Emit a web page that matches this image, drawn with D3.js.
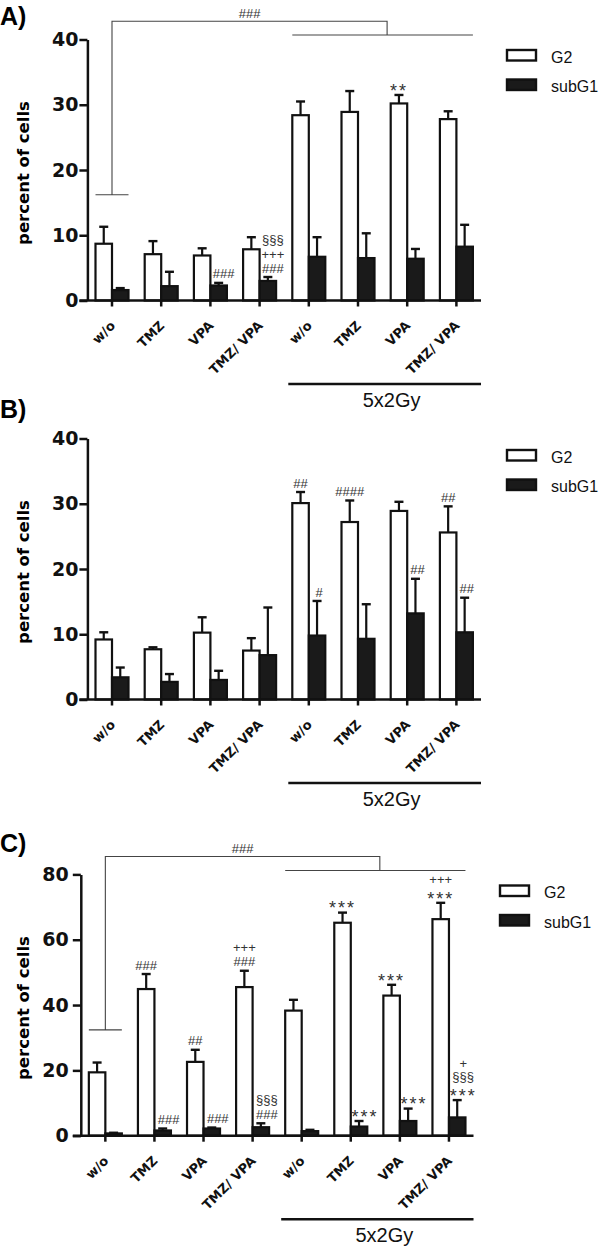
<!DOCTYPE html>
<html><head><meta charset="utf-8">
<script src="https://cdn.jsdelivr.net/npm/d3@7"></script>
<style>body{margin:0;background:#fff} svg{display:block}</style>
</head><body><svg id="c" width="600" height="1246"></svg>
<script>
// ---------- data ----------
const categories = ["w/o", "TMZ", "VPA", "TMZ/ VPA", "w/o", "TMZ", "VPA", "TMZ/ VPA"];
const seriesNames = ["G2", "subG1"];
const groupLabel = "5x2Gy";
const yTitle = "percent of cells";

const ticksAB = [0, 10, 20, 30, 40];
const ticksC = [0, 20, 40, 60, 80];

// Panel A
const A_G2 = [8.7, 7.1, 6.9, 7.85, 28.4, 28.9, 30.2, 27.8];
const A_G2_err = [2.6, 2.0, 1.1, 1.85, 2.1, 3.2, 1.3, 1.2];
const A_subG1 = [1.6, 2.2, 2.3, 3.0, 6.7, 6.5, 6.4, 8.25];
const A_subG1_err = [0.3, 2.2, 0.4, 0.6, 3.0, 3.8, 1.5, 3.35];
const A_annot = [
  [2, "subG1", ["###"]],
  [3, "subG1", ["§§§", "+++", "###"]],
  [6, "G2", ["**"]]
];
// bracket: [left group, left level, right first group, right last group, right level, top level, label]
const A_bracket = [0, 16.2, 4, 7, 40.7, 42.8, "###"];

// Panel B
const B_G2 = [9.2, 7.7, 10.25, 7.5, 30.1, 27.2, 28.9, 25.6];
const B_G2_err = [1.1, 0.3, 2.35, 1.9, 1.7, 3.3, 1.4, 4.0];
const B_subG1 = [3.4, 2.7, 3.0, 6.8, 9.8, 9.3, 13.2, 10.3];
const B_subG1_err = [1.5, 1.2, 1.4, 7.3, 5.3, 5.3, 5.3, 5.3];
const B_annot = [
  [4, "G2", ["##"]],
  [5, "G2", ["####"]],
  [7, "G2", ["##"]],
  [4, "subG1", ["#"]],
  [6, "subG1", ["##"]],
  [7, "subG1", ["##"]]
];

// Panel C
const C_G2 = [19.4, 44.9, 22.6, 45.5, 38.3, 65.2, 42.9, 66.3];
const C_G2_err = [3.0, 4.6, 3.7, 5.0, 3.3, 3.1, 3.3, 5.0];
const C_subG1 = [0.7, 1.6, 2.2, 2.6, 1.4, 2.8, 4.5, 5.6];
const C_subG1_err = [0.2, 0.6, 0.3, 1.2, 0.4, 1.7, 3.8, 5.3];
const C_annot = [
  [1, "G2", ["###"]],
  [2, "G2", ["##"]],
  [3, "G2", ["+++", "###"]],
  [1, "subG1", ["###"]],
  [2, "subG1", ["###"]],
  [3, "subG1", ["§§§", "###"]],
  [5, "G2", ["***"]],
  [6, "G2", ["***"]],
  [7, "G2", ["+++", "***"]],
  [5, "subG1", ["***"]],
  [6, "subG1", ["***"]],
  [7, "subG1", ["+", "§§§", "***"]]
];
const C_bracket = [0, 32.4, 4, 7, 81.2, 85.5, "###"];

// ---------- drawing ----------
const svg = d3.select("#c");
const BOLD = "'DejaVu Sans', sans-serif";
const REG = "'Liberation Sans', Arial, sans-serif";

function panel(cfg) {
  const g = svg.append("g");
  const y = d3.scaleLinear().domain([0, cfg.yMax]).range([cfg.y0, cfg.yTop]);
  const x = d3.scaleBand().domain(d3.range(categories.length)).range([cfg.xStart, cfg.xEnd]);
  const sub = d3.scaleBand().domain(seriesNames).range([-16.5, 16.5]);
  const cx = i => x(i) + x.bandwidth() / 2;
  const vals = {G2: cfg.g2, subG1: cfg.sub};
  const errs = {G2: cfg.g2e, subG1: cfg.sube};

  // panel letter
  g.append("text").attr("x", 0).attr("y", cfg.letterY).text(cfg.letter)
    .attr("font-family", REG).attr("font-weight", "bold").attr("font-size", 25);

  // y title
  g.append("text").attr("transform", `translate(29,${(cfg.y0 + cfg.yTop) / 2 + 3}) rotate(-90)`)
    .attr("text-anchor", "middle").text(yTitle)
    .attr("font-family", BOLD).attr("font-weight", "bold").attr("font-size", 16.5);

  // bars
  seriesNames.forEach(s => {
    g.selectAll(null).data(vals[s]).enter().append("rect")
      .attr("x", (d, i) => cx(i) + sub(s))
      .attr("width", sub.bandwidth())
      .attr("y", d => y(d))
      .attr("height", d => cfg.y0 - y(d))
      .attr("fill", s === "G2" ? "#fff" : "#1a1a1a")
      .attr("stroke", "#111").attr("stroke-width", 2.2);
    // error bars
    const eg = g.selectAll(null).data(vals[s]).enter().append("g")
      .attr("transform", (d, i) => `translate(${cx(i) + sub(s) + sub.bandwidth() / 2},0)`);
    eg.append("line").attr("x1", 0).attr("x2", 0)
      .attr("y1", d => y(d)).attr("y2", (d, i) => y(d + errs[s][i]))
      .attr("stroke", "#111").attr("stroke-width", 2.2);
    eg.append("line").attr("x1", -4.5).attr("x2", 4.5)
      .attr("y1", (d, i) => y(d + errs[s][i])).attr("y2", (d, i) => y(d + errs[s][i]))
      .attr("stroke", "#111").attr("stroke-width", 2.4);
  });

  // y axis
  const ya = g.append("g").attr("transform", `translate(${cfg.xStart},0)`)
    .call(d3.axisLeft(y).tickValues(cfg.ticks).tickSize(8).tickSizeOuter(0).tickPadding(cfg.pad));
  ya.select(".domain").attr("stroke", "#111").attr("stroke-width", 2.5);
  ya.selectAll(".tick line").attr("stroke", "#111").attr("stroke-width", 2.5);
  ya.selectAll(".tick text").attr("font-family", BOLD).attr("font-weight", "bold")
    .attr("font-size", 19).attr("fill", "#111");

  // x axis
  const xa = g.append("g").attr("transform", `translate(0,${cfg.y0})`)
    .call(d3.axisBottom(x).tickSize(6).tickSizeOuter(0).tickFormat(i => categories[i]));
  xa.select(".domain").remove();
  xa.append("line").attr("x1", cfg.xStart - 8).attr("x2", cfg.xEnd).attr("y1", 0).attr("y2", 0)
    .attr("stroke", "#111").attr("stroke-width", 2.5);
  xa.selectAll(".tick line").attr("stroke", "#111").attr("stroke-width", 2.5);
  xa.selectAll(".tick text").attr("x", 0).attr("y", 0).attr("dy", 0)
    .attr("text-anchor", "end").attr("transform", "translate(4,26) rotate(-45)")
    .attr("font-family", BOLD).attr("font-weight", "bold").attr("font-size", 13).attr("fill", "#111");

  // 5x2Gy group line
  const gx1 = cx(4) + sub("G2") - 4;
  g.append("line").attr("x1", gx1).attr("x2", cfg.xEnd)
    .attr("y1", cfg.y0 + 83.5).attr("y2", cfg.y0 + 83.5)
    .attr("stroke", "#111").attr("stroke-width", 2.5);
  g.append("text").attr("x", (gx1 + cfg.xEnd) / 2 + 7).attr("y", cfg.y0 + 106)
    .attr("text-anchor", "middle").text(groupLabel)
    .attr("font-family", REG).attr("font-size", 20).attr("fill", "#111");

  // legend
  seriesNames.forEach((s, k) => {
    const ly = cfg.legY + k * 29.5;
    g.append("rect").attr("x", cfg.legX).attr("y", ly).attr("width", 29).attr("height", 10.5)
      .attr("fill", s === "G2" ? "#fff" : "#1a1a1a").attr("stroke", "#111").attr("stroke-width", 2.4);
    g.append("text").attr("x", cfg.legX + 44).attr("y", ly + 12.5).text(s)
      .attr("font-family", REG).attr("font-size", 16).attr("fill", "#111");
  });

  // annotations
  cfg.annot.forEach(([i, s, lines]) => {
    const top = y(vals[s][i] + errs[s][i]);
    const ax = cx(i) + sub(s) + sub.bandwidth() / 2 + (s === "subG1" ? cfg.subDx : 0);
    lines.slice().reverse().forEach((t, k) => {
      const center = top - 9 - 14 * k;
      const star = t.includes("*");
      const off = star ? 10.8 : (t.includes("§") ? 3.8 : 4.6);
      g.append("text").attr("x", ax).attr("y", center + off)
        .attr("text-anchor", "middle").text(t)
        .attr("font-family", REG).attr("font-size", star ? 18 : 13)
        .attr("letter-spacing", star ? 2 : 0)
        .attr("fill", "#333");
    });
  });

  // bracket
  if (cfg.bracket) {
    const [li, lv, r0, r1, rv, tv, lab] = cfg.bracket;
    const lx = cx(li);
    const rxa = cx(r0) + sub("G2"), rxb = cx(r1) + sub("subG1") + sub.bandwidth();
    const rmid = (rxa + rxb) / 2 + 4.5;
    const p = d3.path();
    p.moveTo(lx - 16.5, y(lv)); p.lineTo(lx + 16.5, y(lv));
    p.moveTo(lx, y(lv)); p.lineTo(lx, y(tv)); p.lineTo(rmid, y(tv)); p.lineTo(rmid, y(rv));
    p.moveTo(rxa, y(rv)); p.lineTo(rxb, y(rv));
    g.append("path").attr("d", p.toString())
      .attr("stroke", "#444").attr("stroke-width", 1.1).attr("fill", "none");
    g.append("text").attr("x", (lx + rmid) / 2).attr("y", y(tv) - 3)
      .attr("text-anchor", "middle").text(lab)
      .attr("font-family", REG).attr("font-size", 13).attr("fill", "#333");
  }
}

panel({letter: "A)", letterY: 25, yMax: 40, y0: 300.5, yTop: 39.5, xStart: 87.4, xEnd: 481,
  ticks: ticksAB, pad: 1, g2: A_G2, g2e: A_G2_err, sub: A_subG1, sube: A_subG1_err,
  annot: A_annot, bracket: A_bracket, legX: 507, legY: 50, subDx: 5});
panel({letter: "B)", letterY: 418, yMax: 40, y0: 699.5, yTop: 438.5, xStart: 87.4, xEnd: 481,
  ticks: ticksAB, pad: 1, g2: B_G2, g2e: B_G2_err, sub: B_subG1, sube: B_subG1_err,
  annot: B_annot, bracket: null, legX: 507, legY: 450, subDx: 2});
panel({letter: "C)", letterY: 852, yMax: 80, y0: 1135.7, yTop: 874.4, xStart: 80.8, xEnd: 473.5,
  ticks: ticksC, pad: 4, g2: C_G2, g2e: C_G2_err, sub: C_subG1, sube: C_subG1_err,
  annot: C_annot, bracket: C_bracket, legX: 500, legY: 885.5, subDx: 6});
</script>
</body></html>
